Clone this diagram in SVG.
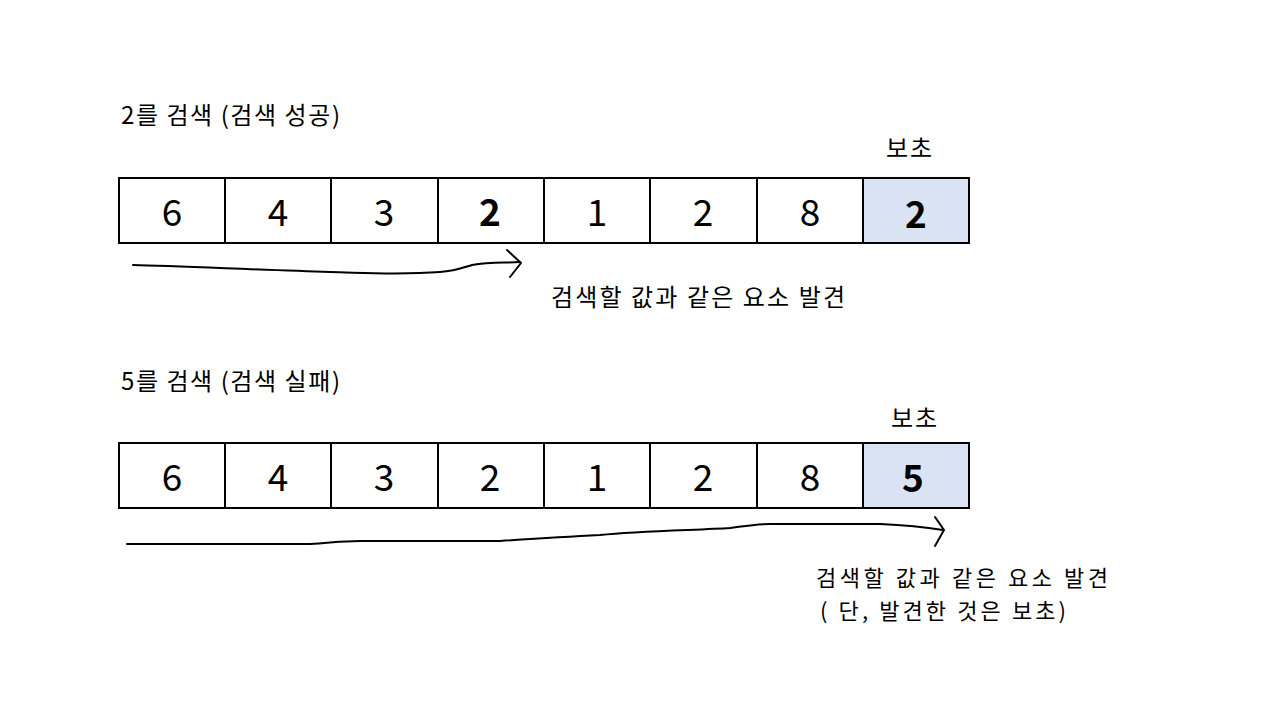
<svg xmlns="http://www.w3.org/2000/svg" width="1280" height="720" viewBox="0 0 1280 720">
<style>
text{font-family:"Noto Sans CJK KR","Noto Sans",sans-serif;fill:#000}
.lbl{font-size:24px}
.sm{font-size:22px}
.num{font-size:37px;text-anchor:middle}
.b{font-weight:bold}
.cell{fill:#fff;stroke:#000;stroke-width:2}
.sent{fill:#DAE3F3;stroke:#000;stroke-width:2}
.hand{fill:none;stroke:#000;stroke-width:2;stroke-linecap:round;stroke-linejoin:round}
</style>
<rect width="1280" height="720" fill="#fff"/>
<text class="lbl" x="121" y="124" textLength="219" lengthAdjust="spacing">2를 검색 (검색 성공)</text>
<text class="lbl" x="121" y="390" textLength="219" lengthAdjust="spacing">5를 검색 (검색 실패)</text>

<g id="array1">
<rect class="cell" x="119" y="178" width="106" height="65"/>
<rect class="cell" x="225" y="178" width="106" height="65"/>
<rect class="cell" x="331" y="178" width="107" height="65"/>
<rect class="cell" x="438" y="178" width="106" height="65"/>
<rect class="cell" x="544" y="178" width="106" height="65"/>
<rect class="cell" x="650" y="178" width="107" height="65"/>
<rect class="cell" x="757" y="178" width="106" height="65"/>
<rect class="sent" x="863" y="178" width="106" height="65"/>
<text class="num" x="172" y="226">6</text>
<text class="num" x="278" y="226">4</text>
<text class="num" x="384" y="226">3</text>
<text class="num b" x="490" y="226">2</text>
<text class="num" x="597" y="226">1</text>
<text class="num" x="703" y="226">2</text>
<text class="num" x="810" y="226">8</text>
<text class="num b" x="916" y="228">2</text>
<text class="lbl" x="886" y="157" textLength="46" lengthAdjust="spacing">보초</text>
</g>

<g id="array2">
<rect class="cell" x="119" y="443" width="106" height="65"/>
<rect class="cell" x="225" y="443" width="106" height="65"/>
<rect class="cell" x="331" y="443" width="107" height="65"/>
<rect class="cell" x="438" y="443" width="106" height="65"/>
<rect class="cell" x="544" y="443" width="106" height="65"/>
<rect class="cell" x="650" y="443" width="107" height="65"/>
<rect class="cell" x="757" y="443" width="106" height="65"/>
<rect class="sent" x="863" y="443" width="106" height="65"/>
<text class="num" x="172" y="491">6</text>
<text class="num" x="278" y="491">4</text>
<text class="num" x="384" y="491">3</text>
<text class="num" x="490" y="491">2</text>
<text class="num" x="597" y="491">1</text>
<text class="num" x="703" y="491">2</text>
<text class="num" x="810" y="491">8</text>
<text class="num b" x="913" y="492">5</text>
<text class="lbl" x="891" y="427" textLength="46" lengthAdjust="spacing">보초</text>
</g>

<g id="connectors">
<path class="hand" d="M133,265 C180,266 260,270 330,272 C370,273 400,275 440,272 C455,271 462,268 472,265 C490,262 505,263 520,262"/>
<path class="hand" d="M507,250 L521,263 L510,277"/>
<path class="hand" d="M127,544 L310,544 C330,543 340,541 360,541 L500,541 C530,539 560,537 600,535 C640,531 700,530 730,528 C745,526 755,524 770,524 L880,524 C905,525 925,527 943,530"/>
<path class="hand" d="M935,517 L944,530 L935,546"/>
</g>

<g id="notes">
<text class="lbl" x="551" y="306" textLength="294" lengthAdjust="spacing">검색할 값과 같은 요소 발견</text>
<text class="sm" x="816" y="586" textLength="292" lengthAdjust="spacing">검색할 값과 같은 요소 발견</text>
<text class="sm" x="820" y="619" textLength="246" lengthAdjust="spacing">( 단, 발견한 것은 보초)</text>
</g>
</svg>
